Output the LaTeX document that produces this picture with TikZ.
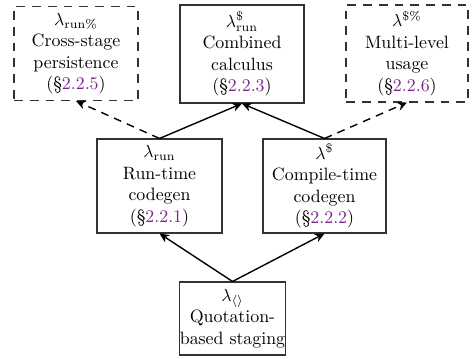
\documentclass[tikz,border=0pt]{standalone}
\usetikzlibrary{arrows.meta}
\definecolor{refpurple}{RGB}{125,38,145}
\newcommand{\secref}[1]{(\S\textcolor{refpurple}{#1})}
\begin{document}
\begin{tikzpicture}[x=0.5714pt,y=-0.5714pt,
  box/.style={draw=black!80,line width=0.6pt,align=center,inner sep=0pt,font=\fontsize{10.2}{12.3}\selectfont},
  dbox/.style={box,dash pattern=on 5pt off 4pt},
  arr/.style={-{Stealth[length=5.5pt,width=5pt]},line width=0.8pt},
  darr/.style={arr,dash pattern=on 4.5pt off 3.5pt}]
\useasboundingbox (0,0) rectangle (474,358);
\node[dbox,minimum width=124*0.5714pt,minimum height=94*0.5714pt] (pers) at (76,53.5)
  {$\lambda_{\mathrm{run\%}}$\\Cross-stage\\persistence\\\secref{2.2.5}};
\node[box,minimum width=124*0.5714pt,minimum height=98*0.5714pt] (comb) at (242,54)
  {$\lambda^{\$}_{\mathrm{run}}$\\Combined\\calculus\\\secref{2.2.3}};
\node[dbox,minimum width=122*0.5714pt,minimum height=97*0.5714pt] (multi) at (407,53.5)
  {$\lambda^{\$\%}$\\Multi-level\\usage\\\secref{2.2.6}};
\node[box,minimum width=125*0.5714pt,minimum height=94*0.5714pt] (run) at (159.5,186)
  {$\lambda_{\mathrm{run}}$\\Run-time\\codegen\\\secref{2.2.1}};
\node[box,minimum width=123*0.5714pt,minimum height=94*0.5714pt] (comp) at (324.5,186)
  {$\lambda^{\$}$\\Compile-time\\codegen\\\secref{2.2.2}};
\node[box,minimum width=103*0.5714pt,minimum height=73*0.5714pt] (quot) at (232.5,318.5)
  {$\lambda_{\langle\rangle}$\\Quotation-\\based staging};
\draw[arr] (quot.north) -- (run.south);
\draw[arr] (quot.north) -- (comp.south);
\draw[arr] (run.north) -- (comb.south);
\draw[arr] (comp.north) -- (comb.south);
\draw[darr] (run.north) -- (pers.south);
\draw[darr] (comp.north) -- (multi.south);
\end{tikzpicture}
\end{document}
